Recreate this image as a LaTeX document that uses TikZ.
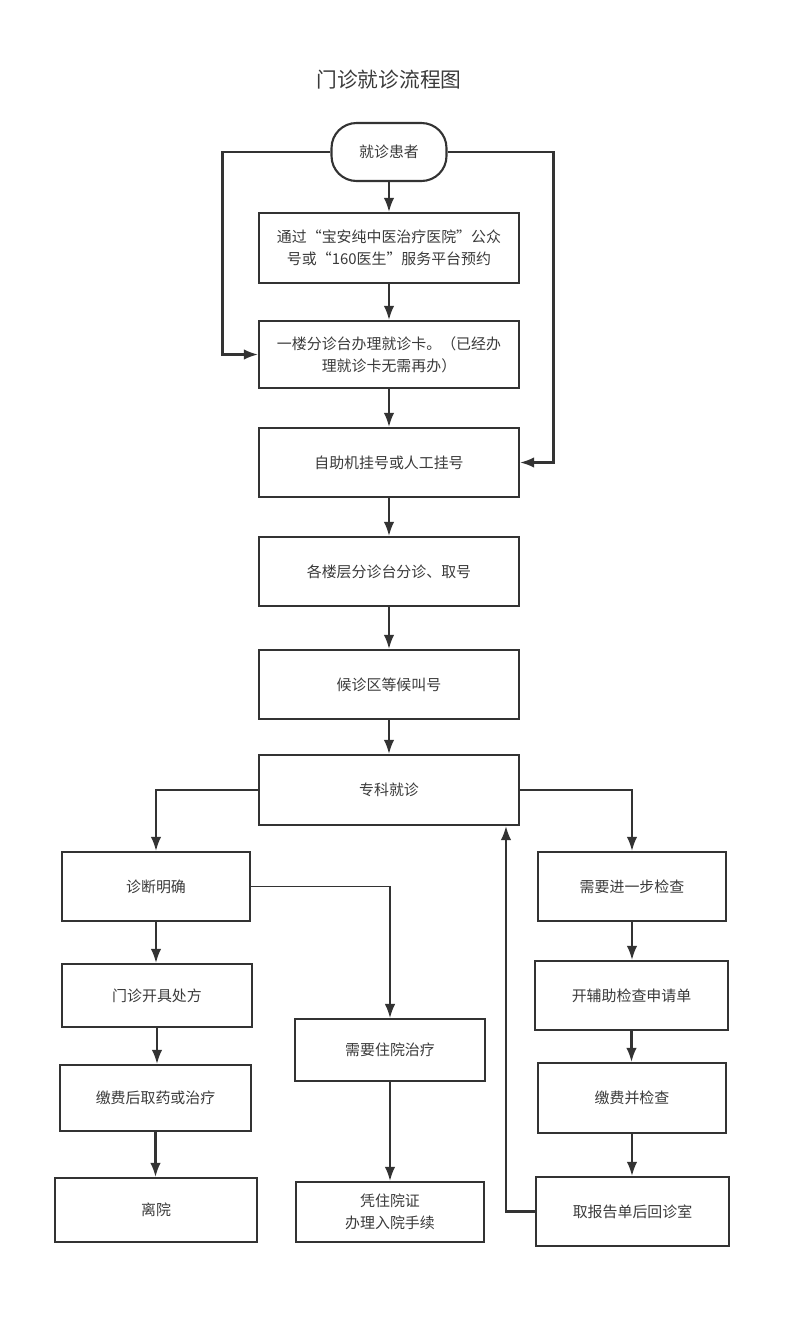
\documentclass[tikz,border=0pt]{standalone}
\usepackage{fontspec}
\setmainfont{Noto Sans CJK SC}
\usetikzlibrary{arrows.meta,positioning}
\definecolor{linegray}{HTML}{333333}
\definecolor{textgray}{HTML}{3A3A3A}
\tikzset{
  >={Latex[length=8pt,width=6pt]},
  every node/.style={font=\fontsize{8.5}{12.5}\selectfont,text=textgray},
  flow/.style={draw=linegray,line width=1.2pt,inner sep=0pt,align=center},
  box/.style={flow,minimum width=#1*0.02cm},
  box/.default=260,
  terminal/.style={flow,rounded corners=0.5cm,minimum width=2.3cm,minimum height=1.16cm},
  link/.style={draw=linegray,line width=1.2pt,->},
}
\begin{document}
\begin{tikzpicture}[x=0.02cm,y=-0.02cm]
  \useasboundingbox (0,0) rectangle (800,1319);
  \node (title) at (389,80) {\fontsize{11.8}{14}\selectfont 门诊就诊流程图};
  % main column
  \node[terminal] (start) at (389,152) {就诊患者};
  \node[box,minimum height=1.4cm] (book) at (389,248) {通过“宝安纯中医治疗医院”公众\\号或“160医生”服务平台预约};
  \node[box,minimum height=1.34cm] (card) at (389,354.5) {一楼分诊台办理就诊卡。（已经办\\理就诊卡无需再办）};
  \node[box,minimum height=1.38cm] (reg) at (389,462.5) {自助机挂号或人工挂号};
  \node[box,minimum height=1.38cm] (triage) at (389,571.5) {各楼层分诊台分诊、取号};
  \node[box,minimum height=1.38cm] (wait) at (389,684.5) {候诊区等候叫号};
  \node[box,minimum height=1.4cm] (clinic) at (389,790) {专科就诊};
  % left column
  \node[box=188,minimum height=1.38cm] (diag) at (156,886.5) {诊断明确};
  \node[box=190,minimum height=1.26cm] (presc) at (157,995.5) {门诊开具处方};
  \node[box=191,minimum height=1.32cm] (pay) at (155.5,1098) {缴费后取药或治疗};
  \node[box=202,minimum height=1.28cm] (leave) at (156,1210) {离院};
  % middle column
  \node[box=190,minimum height=1.24cm] (inpat) at (390,1050) {需要住院治疗};
  \node[box=188,minimum height=1.2cm] (admit) at (390,1212) {凭住院证\\办理入院手续};
  % right column
  \node[box=188,minimum height=1.38cm] (exam) at (632,886.5) {需要进一步检查};
  \node[box=193,minimum height=1.38cm] (apply) at (631.5,995.5) {开辅助检查申请单};
  \node[box=188,minimum height=1.4cm] (payexam) at (632,1098) {缴费并检查};
  \node[box=193,minimum height=1.38cm] (report) at (632.5,1211.5) {取报告单后回诊室};
  \coordinate (ret) at ([xshift=2.34cm]clinic.south);

  \draw[link] (start) -- (book);
  \draw[link] (book) -- (card);
  \draw[link] (card) -- (reg);
  \draw[link] (reg) -- (triage);
  \draw[link] (triage) -- (wait);
  \draw[link] (wait) -- (clinic);
  \draw[link] (start.west) -- ++(-108,0) |- (card.west);
  \draw[link] (start.east) -- ++(106,0) |- (reg.east);
  \draw[link] (clinic.west) -| (diag.north);
  \draw[link] (clinic.east) -| (exam.north);
  \draw[link] (diag.south) -- (diag.south |- presc.north);
  \draw[link] (presc.south) -- (presc.south |- pay.north);
  \draw[link] (pay.south) -- (pay.south |- leave.north);
  \draw[link,line width=0.9pt] (diag.east) -| (inpat.north);
  \draw[link] (inpat) -- (admit);
  \draw[link] (exam.south) -- (exam.south |- apply.north);
  \draw[link] (apply.south) -- (apply.south |- payexam.north);
  \draw[link] (payexam.south) -- (payexam.south |- report.north);
  \draw[link] (report.west) -| (ret);
\end{tikzpicture}
\end{document}
